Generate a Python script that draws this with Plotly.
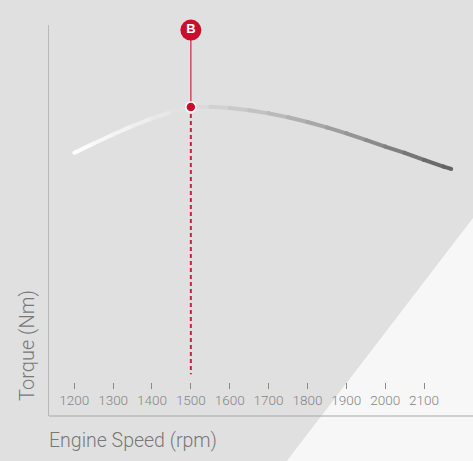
import plotly.graph_objects as go

# ---- data ----
rpm = [1200, 1250, 1300, 1350, 1400, 1450, 1500, 1550, 1600, 1650, 1700,
       1750, 1800, 1850, 1900, 1950, 2000, 2050, 2100, 2150, 2170]
torque = [67.3, 69.7, 72.0, 74.2, 76.1, 77.8, 79.0, 79.1, 78.8, 78.2, 77.4,
          76.4, 75.2, 73.8, 72.3, 70.6, 68.9, 67.3, 65.5, 63.8, 63.2]
tick_vals = [1200, 1300, 1400, 1500, 1600, 1700, 1800, 1900, 2000, 2100]
tick_text = [str(v) for v in tick_vals]
peak_rpm = 1500
peak_torque = 79.0
marker_label = "B"
x_title = "Engine Speed (rpm)"
y_title = "Torque (Nm)"

# ---- layout constants ----
W, H = 473, 461
ML, MR, MT, MB = 49, 0, 25, 45
PW, PH = W - ML - MR, H - MT - MB


def px(xp):
    return (xp - ML) / PW


def py(yp):
    return (H - MB - yp) / PH


X_RANGE = [1135, 2226]
Y_RANGE = [0, 100]
B_Y = 98.7        # label bubble height (axis units)
DASH_END = 10.7   # bottom of the dashed guide (axis units)

# gray gradient anchors along the curve (rpm -> gray level)
grad = [(1200, 254), (1400, 236), (1500, 222), (1600, 205), (1700, 190),
        (1800, 172), (1900, 154), (2000, 134), (2100, 112), (2170, 98)]


def gray_at(r):
    for (r0, g0), (r1, g1) in zip(grad[:-1], grad[1:]):
        if r0 <= r <= r1:
            t = (r - r0) / (r1 - r0)
            g = round(g0 + t * (g1 - g0))
            return f"rgb({g},{g},{g})"
    g = grad[-1][1] if r > grad[-1][0] else grad[0][1]
    return f"rgb({g},{g},{g})"


fig = go.Figure()

# curve as short segments coloured along a gradient
for i in range(len(rpm) - 1):
    c = gray_at((rpm[i] + rpm[i + 1]) / 2)
    fig.add_trace(go.Scatter(
        x=rpm[i:i + 2], y=torque[i:i + 2], mode="lines+markers",
        line=dict(color=c, width=4),
        marker=dict(color=c, size=4, line=dict(width=0)),
        hoverinfo="skip", showlegend=False))

# solid guide from the bubble down to the peak
fig.add_trace(go.Scatter(
    x=[peak_rpm, peak_rpm], y=[B_Y, peak_torque], mode="lines",
    line=dict(color="#d4566a", width=1.6), hoverinfo="skip", showlegend=False,
    cliponaxis=False))
# dashed guide from the peak to the axis
fig.add_trace(go.Scatter(
    x=[peak_rpm, peak_rpm], y=[peak_torque, DASH_END], mode="lines",
    line=dict(color="#c8233b", width=2, dash="4px,3px"),
    hoverinfo="skip", showlegend=False))
# peak dot
fig.add_trace(go.Scatter(
    x=[peak_rpm], y=[peak_torque], mode="markers",
    marker=dict(color="#c8102e", size=10, line=dict(color="white", width=1.5)),
    hoverinfo="skip", showlegend=False, cliponaxis=False))
# label bubble
fig.add_trace(go.Scatter(
    x=[peak_rpm], y=[B_Y], mode="markers+text", text=[marker_label],
    textposition="middle center",
    textfont=dict(color="white", size=13, family="Liberation Sans, Arial", weight="bold"),
    marker=dict(color="#c8102e", size=21, line=dict(width=0)),
    hoverinfo="skip", showlegend=False, cliponaxis=False))

FONT = "Roboto, Liberation Sans, sans-serif"

fig.update_layout(
    width=W, height=H,
    margin=dict(l=ML, r=MR, t=MT, b=MB, pad=0),
    paper_bgcolor="#e0e0e0",
    plot_bgcolor="rgba(0,0,0,0)",
    showlegend=False,
    xaxis=dict(range=X_RANGE, anchor="free", position=py(382),
               showgrid=False, zeroline=False, showline=False,
               tickmode="array", tickvals=tick_vals, ticktext=tick_text,
               ticks="outside", ticklen=6, tickwidth=1, tickcolor="#8a8a8a",
               tickfont=dict(family=FONT, size=13.5, color="#858585", weight=300),
               fixedrange=True),
    yaxis=dict(range=Y_RANGE, showgrid=False, zeroline=False,
               showline=True, linecolor="#b8b8b8", linewidth=1,
               showticklabels=False, ticks="", fixedrange=True),
    shapes=[
        dict(type="path", xref="paper", yref="paper",
             path=f"M {px(473)} {py(218)} L {px(474)} {py(462)} L {px(286)} {py(462)} Z",
             fillcolor="#f7f7f7", line=dict(width=0), layer="below"),
        dict(type="line", xref="paper", yref="paper", x0=0, x1=1, y0=0, y1=0,
             line=dict(color="#a8a8a8", width=1), layer="above"),
    ],
    annotations=[
        dict(text=x_title, xref="paper", yref="paper", x=px(47), y=py(440),
             xanchor="left", yanchor="middle", showarrow=False,
             font=dict(family=FONT, size=19.5, color="#787878", weight=300)),
        dict(text=y_title, xref="paper", yref="paper", x=px(27), y=py(346),
             xanchor="center", yanchor="middle", textangle=-90, showarrow=False,
             font=dict(family=FONT, size=20, color="#787878", weight=300)),
    ],
)

fig.write_html("out.html",
               config={"displayModeBar": False, "staticPlot": True},
               post_script="document.body.style.margin='0';document.body.style.padding='0';")
